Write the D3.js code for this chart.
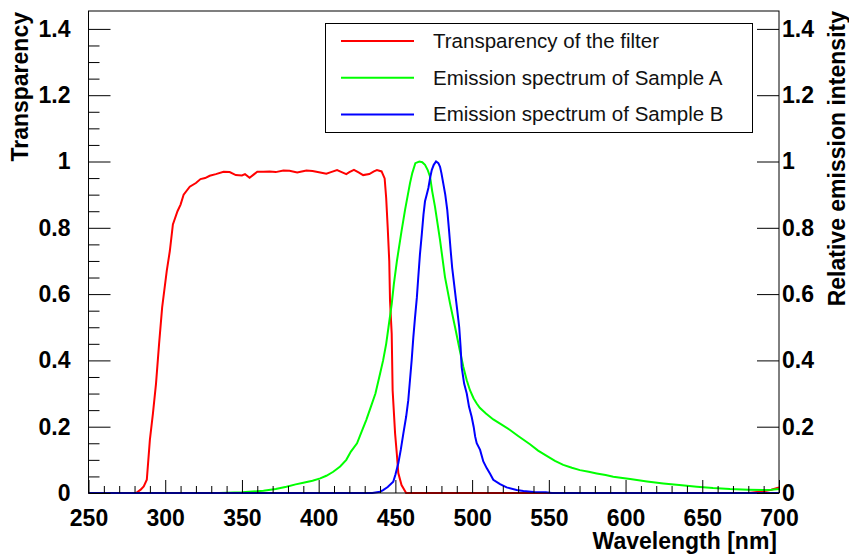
<!DOCTYPE html>
<html>
<head>
<meta charset="utf-8">
<script src="https://cdn.jsdelivr.net/npm/d3@7"></script>
<style>
  body { margin: 0; background: #fff; }
  svg { display: block; }
</style>
</head>
<body>
<div id="chart"></div>
<script>
// Filter transparency (red)
const filterWl = [250, 281, 284, 286, 288, 290, 292, 294, 296, 298, 301, 303, 305, 308, 310, 312, 316, 320, 323, 326,
  329, 333, 338, 342, 346, 350, 352, 355, 358, 360, 364, 368, 372, 377, 381, 386, 389, 392, 396, 401, 405, 408, 412,
  415, 418, 420, 423, 426, 429, 433, 436, 438, 441, 443, 444, 445, 446, 446.5, 447.6, 448.2, 449.8, 450.9, 451.9,
  454, 457, 680, 690, 695, 700];
const filterT = [0, 0, 0.01, 0.02, 0.04, 0.16, 0.24, 0.33, 0.45, 0.56, 0.67, 0.73, 0.81, 0.85, 0.87, 0.9, 0.924, 0.935,
  0.947, 0.95, 0.957, 0.962, 0.969, 0.968, 0.959, 0.958, 0.962, 0.951, 0.962, 0.969, 0.969, 0.97, 0.968, 0.973, 0.972,
  0.967, 0.97, 0.973, 0.971, 0.967, 0.963, 0.968, 0.974, 0.968, 0.962, 0.968, 0.975, 0.967, 0.959, 0.962, 0.97, 0.974,
  0.97, 0.949, 0.89, 0.8, 0.7, 0.58, 0.48, 0.31, 0.18, 0.12, 0.06, 0.024, 0, 0, 0.005, 0.01, 0.017];

// Emission spectrum of Sample A (green)
const sampleAWl = [335, 350, 364, 372, 379, 385, 390, 396, 401, 405, 409.5, 414, 418, 421, 425, 428, 431, 434, 437, 440,
  442, 444, 445.5, 447.6, 449, 451, 454, 456.3, 459.5, 461, 463, 465.6, 467.5, 469.3, 471, 472.6, 474, 475.8, 479.1,
  482.3, 485.6, 488.9, 492, 494.3, 496.5, 498.6, 501, 503, 505, 509, 513.8, 519, 524.7, 530, 537.7, 543, 548.6, 554,
  559.4, 565, 570.3, 576, 581.2, 587, 592, 598, 603, 614, 624.6, 635, 646.4, 657, 668, 680, 690, 695, 700];
const sampleA = [0, 0.002, 0.007, 0.012, 0.019, 0.026, 0.031, 0.037, 0.044, 0.052, 0.064, 0.08, 0.1, 0.125, 0.15, 0.185,
  0.22, 0.26, 0.3, 0.36, 0.4, 0.45, 0.5, 0.57, 0.63, 0.7, 0.79, 0.854, 0.934, 0.965, 0.995, 1.0, 0.998, 0.99, 0.975,
  0.954, 0.91, 0.864, 0.763, 0.652, 0.572, 0.5, 0.43, 0.38, 0.34, 0.31, 0.285, 0.27, 0.257, 0.24, 0.222, 0.207, 0.19,
  0.172, 0.147, 0.128, 0.112, 0.097, 0.085, 0.076, 0.069, 0.064, 0.059, 0.054, 0.049, 0.045, 0.042, 0.035, 0.029,
  0.024, 0.019, 0.015, 0.012, 0.01, 0.009, 0.01, 0.012];

// Emission spectrum of Sample B (blue)
const sampleBWl = [250, 435, 440, 442, 445, 448.6, 450, 451.9, 453.5, 455.2, 457, 458.4, 459.5, 460.6, 461.7, 462.8, 464,
  464.9, 466, 467.2, 468.3, 469.3, 470.4, 471.5, 472.6, 473.7, 475, 476.5, 478, 479.1, 480, 481.2, 482.5, 483.8, 485,
  486, 487, 488.2, 489.3, 490.3, 491.6, 492.5, 493.2, 494.8, 496.5, 498, 499.7, 501, 502, 503, 505.2, 507.3, 509.5,
  511.7, 513.8, 518.2, 522.5, 529, 533.4, 540, 548, 552, 700];
const sampleB = [0, 0, 0.004, 0.009, 0.018, 0.034, 0.055, 0.09, 0.13, 0.18, 0.23, 0.28, 0.34, 0.4, 0.47, 0.53, 0.59, 0.65,
  0.72, 0.78, 0.84, 0.88, 0.9, 0.92, 0.95, 0.974, 0.99, 1.0, 0.995, 0.984, 0.965, 0.934, 0.9, 0.854, 0.79, 0.733, 0.68,
  0.633, 0.59, 0.552, 0.5, 0.44, 0.38, 0.33, 0.3, 0.26, 0.23, 0.2, 0.17, 0.15, 0.13, 0.095, 0.075, 0.058, 0.04, 0.027,
  0.017, 0.009, 0.006, 0.003, 0.002, 0, 0];

const xMajor = [250, 300, 350, 400, 450, 500, 550, 600, 650, 700];
const yMajor = [0, 0.2, 0.4, 0.6, 0.8, 1, 1.2, 1.4];

const series = [
  { name: "Transparency of the filter", wl: filterWl, val: filterT, color: "#ff0000" },
  { name: "Emission spectrum of Sample A", wl: sampleAWl, val: sampleA, color: "#00ff00" },
  { name: "Emission spectrum of Sample B", wl: sampleBWl, val: sampleB, color: "#0000ff" }
];

const W = 849, H = 554;
const frame = { left: 88.5, right: 779, top: 11, bottom: 493 };
const font = "'Liberation Sans', Arial, Helvetica, sans-serif";

const x = d3.scaleLinear().domain([250, 700]).range([frame.left, frame.right]);
const y = d3.scaleLinear().domain([0, 1.454]).range([frame.bottom, frame.top]);

const svg = d3.select("#chart").append("svg")
  .attr("width", W)
  .attr("height", H);

// curves
const line = d3.line()
  .x(d => x(d[0]))
  .y(d => y(d[1]));

svg.append("g")
  .selectAll("path")
  .data(series)
  .enter()
  .append("path")
  .attr("fill", "none")
  .attr("stroke", d => d.color)
  .attr("stroke-width", 2)
  .attr("d", d => line(d.wl.map((w, i) => [w, d.val[i]])));

// minor ticks
const xMinor = d3.range(250, 701, 10).filter(v => !xMajor.includes(v));
const yMinor = d3.range(0, 1.41, 0.05).filter(v => Math.abs(v * 5 - Math.round(v * 5)) > 1e-6);

function styleAxis(g, size) {
  g.attr("font-family", font).attr("font-size", size).attr("font-weight", "bold");
  g.select(".domain").remove();
  g.selectAll(".tick line").attr("stroke", "#000");
  g.selectAll(".tick text").attr("fill", "#000");
}

svg.append("g")
  .attr("transform", `translate(0,${frame.bottom})`)
  .call(d3.axisBottom(x).tickValues(xMinor).tickSize(-7).tickFormat(""))
  .call(g => styleAxis(g, 23));

svg.append("g")
  .attr("transform", `translate(0,${frame.bottom})`)
  .call(d3.axisBottom(x).tickValues(xMajor).tickSize(-13).tickPadding(17).tickFormat(d3.format("d")))
  .call(g => styleAxis(g, 23));

svg.append("g")
  .attr("transform", `translate(${frame.left},0)`)
  .call(d3.axisLeft(y).tickValues(yMinor).tickSize(-11).tickFormat(""))
  .call(g => styleAxis(g, 23));

svg.append("g")
  .attr("transform", `translate(${frame.left},0)`)
  .call(d3.axisLeft(y).tickValues(yMajor).tickSize(-22).tickPadding(18).tickFormat(d3.format("~g")))
  .call(g => styleAxis(g, 23));

svg.append("g")
  .attr("transform", `translate(${frame.right},0)`)
  .call(d3.axisRight(y).tickValues(yMajor).tickSize(-22).tickPadding(3).tickFormat(d3.format("~g")))
  .call(g => styleAxis(g, 23));

// frame
svg.append("rect")
  .attr("x", frame.left)
  .attr("y", frame.top)
  .attr("width", frame.right - frame.left)
  .attr("height", frame.bottom - frame.top)
  .attr("fill", "none")
  .attr("stroke", "#000")
  .attr("stroke-width", 1);

// axis titles
svg.append("text")
  .attr("transform", "translate(28,12) rotate(-90)")
  .attr("text-anchor", "end")
  .attr("font-family", font)
  .attr("font-size", 23)
  .attr("font-weight", "bold")
  .text("Transparency");

svg.append("text")
  .attr("transform", "translate(845,11) rotate(-90)")
  .attr("text-anchor", "end")
  .attr("font-family", font)
  .attr("font-size", 23)
  .attr("font-weight", "bold")
  .text("Relative emission intensity");

svg.append("text")
  .attr("x", 777)
  .attr("y", 549)
  .attr("text-anchor", "end")
  .attr("font-family", font)
  .attr("font-size", 23)
  .attr("font-weight", "bold")
  .text("Wavelength [nm]");

// legend
const legend = svg.append("g");
legend.append("rect")
  .attr("x", 325.5)
  .attr("y", 23.5)
  .attr("width", 427)
  .attr("height", 109)
  .attr("fill", "#fff")
  .attr("stroke", "#000");

const rows = legend.selectAll(".row")
  .data(series)
  .enter()
  .append("g")
  .attr("transform", (d, i) => `translate(0,${41 + i * 36.7})`);

rows.append("line")
  .attr("x1", 341)
  .attr("x2", 414)
  .attr("stroke", d => d.color)
  .attr("stroke-width", 2);

rows.append("text")
  .attr("x", 433)
  .attr("y", 7)
  .attr("font-family", font)
  .attr("font-size", 20.5)
  .attr("fill", "#111")
  .text(d => d.name);
</script>
</body>
</html>
